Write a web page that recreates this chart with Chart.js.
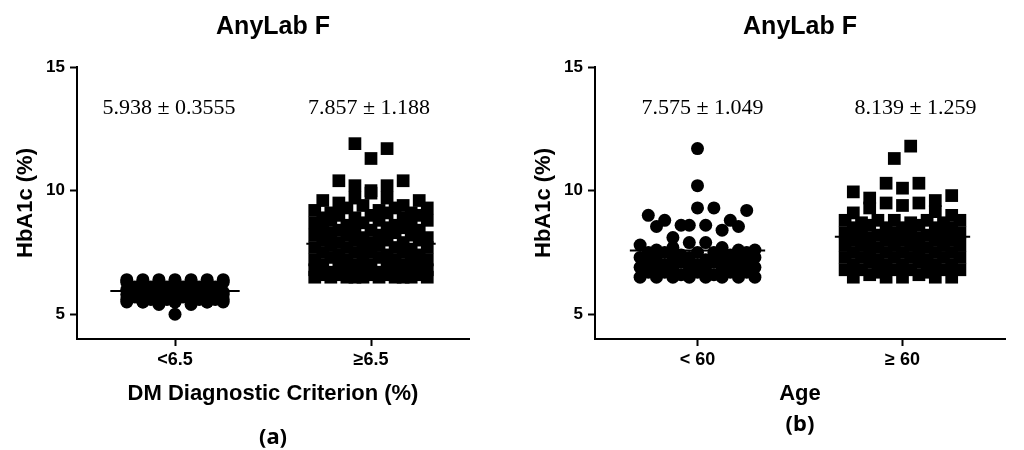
<!DOCTYPE html>
<html>
<head>
<meta charset="utf-8">
<script src="https://cdn.jsdelivr.net/npm/chart.js@4"></script>
<style>
  body { margin: 0; background: #fff; }
  .wrap { display: flex; width: 1024px; height: 450px; }
  .panel { position: relative; width: 512px; height: 450px; }
</style>
</head>
<body>
<div class="wrap">
  <div class="panel"><canvas id="chartA"></canvas></div>
  <div class="panel"><canvas id="chartB"></canvas></div>
</div>
<script>
// ---- data ----
const chartTitle = 'AnyLab F';
const yTitle = 'HbA1c (%)';
const yTicks = [5, 10, 15];

const aCategories = ['<6.5', '\u22656.5'];
const aXTitle = 'DM Diagnostic Criterion (%)';
const aMeans = [5.938, 7.857];
const aSDs = [0.3555, 1.188];

const bCategories = ['< 60', '\u2265 60'];
const bXTitle = 'Age';
const bMeans = [7.575, 8.139];
const bSDs = [1.049, 1.259];

// each inner array is one row of the dot plot (points spread side by side)
const aLowRows = [
  [6.4, 6.4, 6.4, 6.4, 6.4, 6.4, 6.4],
  [6.3, 6.3, 6.3, 6.3, 6.3, 6.3, 6.3],
  [6.1, 6.1, 6.1, 6.1, 6.1, 6.1],
  [6.0, 5.9, 6.0, 5.9, 5.9, 6.0, 5.9],
  [5.9, 5.8, 5.8, 5.9, 5.8, 5.8],
  [5.8, 5.7, 5.7, 5.8, 5.7, 5.7, 5.8],
  [5.7, 5.6, 5.6, 5.7, 5.6, 5.6],
  [5.6, 5.5, 5.6, 5.5, 5.6, 5.5, 5.6],
  [5.5, 5.5, 5.4, 5.5, 5.4, 5.5, 5.5],
  [5.0]
];
const aHighRows = [
  [11.9, 11.3, 11.7],
  [10.4, 10.2, 10.0, 10.2, 10.4],
  [9.6, 9.5, 9.7, 9.9, 9.7, 9.4, 9.6],
  [9.2, 9.1, 9.3, 9.4, 9.2, 9.3, 9.1, 9.3],
  [8.9, 9.0, 8.9, 9.0, 9.1, 8.9, 9.0],
  [8.7, 8.8, 8.6, 8.7, 8.8, 8.6, 8.7, 8.8],
  [8.5, 8.4, 8.5, 8.4, 8.5, 8.5, 8.4],
  [8.2, 8.3, 8.2, 8.1, 8.2, 8.3, 8.2, 8.1],
  [8.0, 7.9, 8.0, 7.9, 8.0, 7.9, 8.0],
  [7.7, 7.8, 7.7, 7.6, 7.8, 7.7, 7.6, 7.7],
  [7.5, 7.4, 7.5, 7.5, 7.4, 7.5, 7.4],
  [7.2, 7.3, 7.2, 7.2, 7.3, 7.2, 7.1, 7.2],
  [7.0, 6.9, 7.0, 7.0, 6.9, 7.0, 6.9],
  [6.8, 6.7, 6.8, 6.8, 6.7, 6.8, 6.7, 6.8],
  [6.6, 6.6, 6.5, 6.6, 6.6, 6.5, 6.6],
  [6.5, 6.5, 6.5, 6.5, 6.5, 6.5, 6.5, 6.5]
];
const bYoungRows = [
  [11.7],
  [10.2],
  [9.0, 8.8, 8.6, 9.3, 9.3, 8.8, 9.2],
  [8.55, 8.1, 8.6, 8.6, 8.4, 8.55],
  [7.8, 7.6, 7.7, 7.9, 7.9, 7.7, 7.6, 7.6],
  [7.5, 7.5, 7.4, 7.5, 7.5, 7.4, 7.5],
  [7.3, 7.2, 7.3, 7.3, 7.2, 7.3, 7.2, 7.3],
  [7.1, 7.0, 7.1, 7.0, 7.1, 7.0, 7.1],
  [6.9, 6.8, 6.9, 6.9, 6.8, 6.9, 6.8, 6.9],
  [6.7, 6.7, 6.6, 6.7, 6.6, 6.7, 6.7],
  [6.5, 6.5, 6.5, 6.5, 6.5, 6.5, 6.5, 6.5]
];
const bOldRows = [
  [11.3, 11.8],
  [9.95, 9.7, 10.3, 10.1, 10.3, 9.6, 9.8],
  [9.1, 9.3, 9.5, 9.4, 9.5, 9.15, 9.0],
  [8.8, 8.7, 8.8, 8.8, 8.7, 8.8, 8.7, 8.8],
  [8.5, 8.6, 8.5, 8.5, 8.6, 8.5, 8.5],
  [8.3, 8.3, 8.2, 8.3, 8.3, 8.2, 8.3, 8.3],
  [8.0, 8.1, 8.0, 8.0, 8.1, 8.0, 8.0],
  [7.8, 7.8, 7.7, 7.8, 7.8, 7.7, 7.8, 7.8],
  [7.5, 7.6, 7.5, 7.5, 7.6, 7.5, 7.5],
  [7.3, 7.3, 7.2, 7.3, 7.3, 7.2, 7.3, 7.3],
  [7.0, 7.1, 7.0, 7.0, 7.1, 7.0, 7.0],
  [6.8, 6.8, 6.7, 6.8, 6.8, 6.7, 6.8, 6.8],
  [6.5, 6.6, 6.5, 6.5, 6.6, 6.5, 6.5]
];

// ---- helpers ----
const sans = "'Liberation Sans', Arial, sans-serif";

// spread each row's points symmetrically around the category centre
function rowsToPoints(rows, center, step) {
  const pts = [];
  rows.forEach(row => {
    const n = row.length;
    row.forEach((v, i) => pts.push({ x: center + (i - (n - 1) / 2) * step, y: v }));
  });
  return pts;
}

function meanLine(center, mean) {
  return [{ x: center - 0.33, y: mean }, { x: center + 0.33, y: mean }];
}

const statLabels = {
  id: 'statLabels',
  afterDatasetsDraw(chart, args, opts) {
    const { ctx, chartArea, scales } = chart;
    ctx.save();
    ctx.font = '22px "Liberation Serif", "Times New Roman", serif';
    ctx.fillStyle = '#000';
    ctx.textAlign = 'center';
    ctx.textBaseline = 'middle';
    opts.means.forEach((m, i) => {
      const x = scales.x.getPixelForValue(i + 0.5) + opts.shift[i];
      ctx.fillText(m + ' \u00b1 ' + opts.sds[i], x, chartArea.top + 41);
    });
    ctx.restore();
  }
};

function createChart(id, p) {
  return new Chart(document.getElementById(id), {
    type: 'scatter',
    data: {
      datasets: [
        { data: meanLine(0.5, p.means[0]), showLine: true, borderColor: '#000', borderWidth: 2, pointRadius: 0, order: 0 },
        { data: meanLine(1.5, p.means[1]), showLine: true, borderColor: '#000', borderWidth: 2, pointRadius: 0, order: 0 },
        { data: rowsToPoints(p.rows[0], 0.5, p.step), pointStyle: p.styles[0], pointRadius: p.radii[0],
          backgroundColor: '#000', borderWidth: 0, order: 1 },
        { data: rowsToPoints(p.rows[1], 1.5, p.step), pointStyle: p.styles[1], pointRadius: p.radii[1],
          backgroundColor: '#000', borderWidth: 0, order: 1 }
      ]
    },
    options: {
      responsive: true,
      maintainAspectRatio: false,
      animation: false,
      layout: { padding: { left: 8, right: p.padRight, top: 0, bottom: 0 } },
      plugins: {
        legend: { display: false },
        tooltip: { enabled: false },
        title: {
          display: true, text: chartTitle, fullSize: false, color: '#000',
          font: { family: sans, size: 25, weight: 'bold' },
          padding: { top: 12, bottom: 25 }
        },
        subtitle: {
          display: true, text: p.panel, position: 'bottom', fullSize: false, color: '#000',
          font: { family: "'Noto Sans', sans-serif", size: 22, weight: 'bold', lineHeight: 1 },
          padding: { top: p.subTop, bottom: p.subBottom }
        },
        statLabels: { means: p.means, sds: p.sds, shift: p.shift }
      },
      scales: {
        x: {
          type: 'linear', min: 0, max: 2,
          afterBuildTicks: s => { s.ticks = [{ value: 0.5 }, { value: 1.5 }]; },
          ticks: {
            callback: v => p.categories[Math.round(v - 0.5)],
            color: '#000', padding: 3, maxRotation: 0, autoSkip: false,
            font: { family: sans, size: 18, weight: 'bold' }
          },
          grid: { drawOnChartArea: false, tickLength: 7, tickWidth: 2, tickColor: '#000' },
          border: { color: '#000', width: 2 },
          title: {
            display: true, text: p.xTitle, color: '#000',
            font: { family: sans, size: 22, weight: 'bold' },
            padding: { top: 7, bottom: 0 }
          }
        },
        y: {
          min: 4, max: 15,
          afterBuildTicks: s => { s.ticks = yTicks.map(v => ({ value: v })); },
          afterFit: s => { s.width = p.yWidth; },
          ticks: {
            color: '#000', padding: 5,
            font: { family: sans, size: 17, weight: 'bold' }
          },
          grid: { drawOnChartArea: false, tickLength: 7, tickWidth: 2, tickColor: '#000' },
          border: { color: '#000', width: 2 },
          title: {
            display: true, text: yTitle, color: '#000',
            font: { family: sans, size: 22, weight: 'bold' },
            padding: { top: p.yTitlePad, bottom: 0 }
          }
        }
      }
    },
    plugins: [statLabels]
  });
}

createChart('chartA', {
  panel: '(a)', categories: aCategories, xTitle: aXTitle,
  means: aMeans, sds: aSDs, rows: [aLowRows, aHighRows],
  styles: ['circle', 'rect'], radii: [6.5, 9], step: 0.082,
  padRight: 43, yWidth: 69, yTitlePad: 4.8, subTop: 20, subBottom: 1, shift: [-6, -2]
});

createChart('chartB', {
  panel: '(b)', categories: bCategories, xTitle: bXTitle,
  means: bMeans, sds: bSDs, rows: [bYoungRows, bOldRows],
  styles: ['circle', 'rect'], radii: [6.5, 9], step: 0.08,
  padRight: 19, yWidth: 75, yTitlePad: 10.8, subTop: 7, subBottom: 14, shift: [5, 13]
});
</script>
</body>
</html>
